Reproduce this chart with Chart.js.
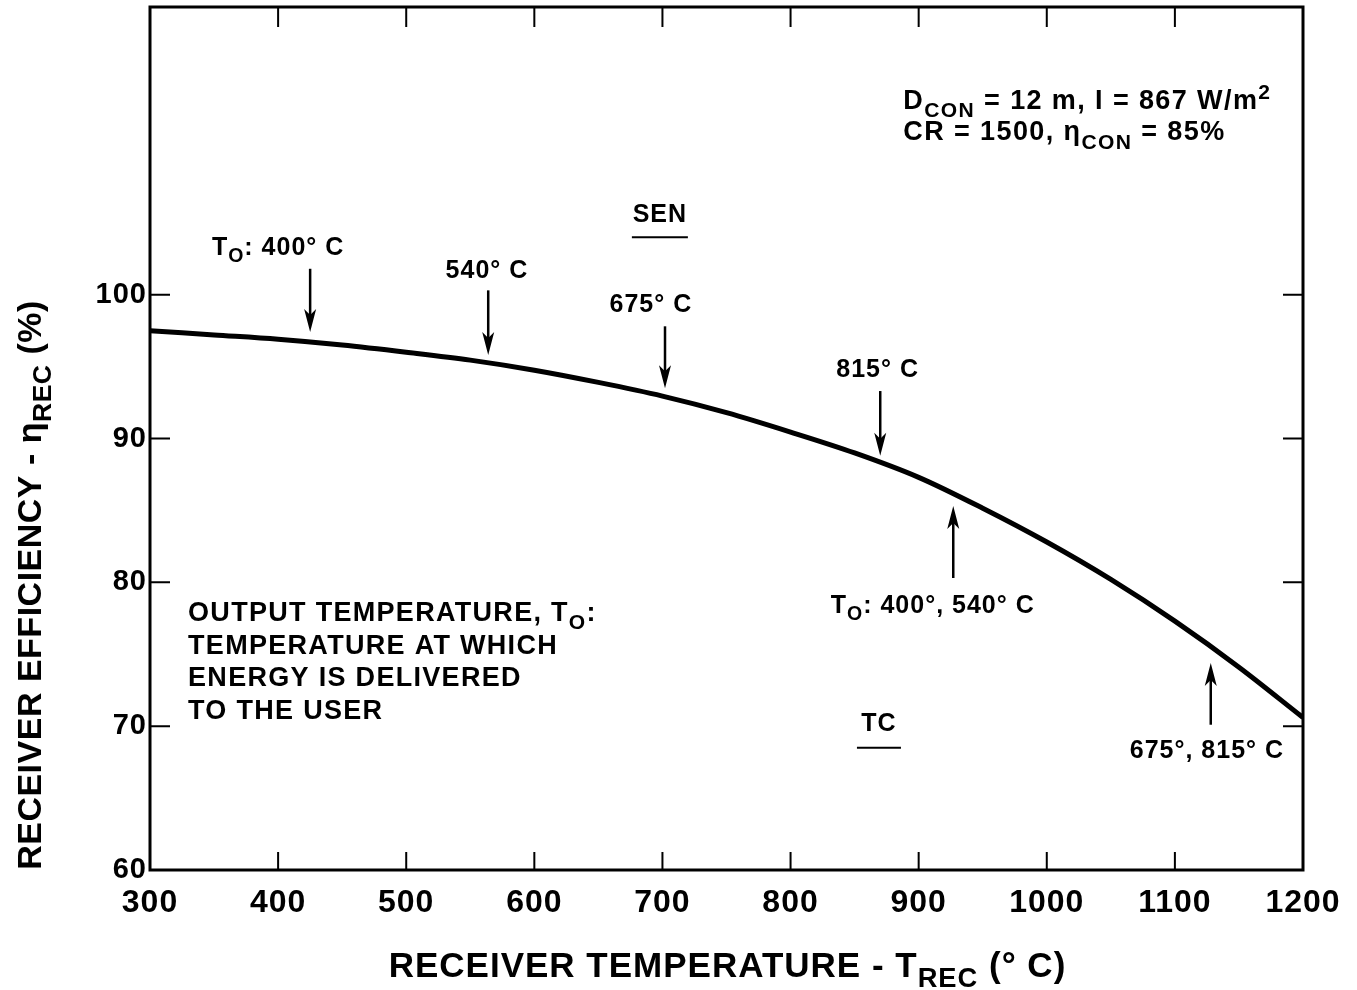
<!DOCTYPE html>
<html>
<head>
<meta charset="utf-8">
<script src="https://cdn.jsdelivr.net/npm/chart.js@4"></script>
<style>
  body { margin: 0; background: #fff; }
  canvas { display: block; }
</style>
</head>
<body>
<canvas id="effChart" width="1357" height="990"></canvas>
<script>
// receiver efficiency curve
const temps = [300, 350, 400, 450, 500, 550, 600, 650, 700, 750, 800, 850, 900, 950, 1000, 1050, 1100, 1150, 1200];
const efficiency = [97.5, 97.2, 96.9, 96.5, 96.0, 95.45, 94.75, 93.9, 92.95, 91.8, 90.45, 89.0, 87.3, 85.15, 82.8, 80.2, 77.3, 74.1, 70.6];

// arrows marking output temperatures (temperature, tail value, tip value)
const arrowT = [425, 564, 702, 870, 927, 1128];
const arrowTail = [101.8, 100.3, 97.8, 93.3, 80.3, 70.1];
const arrowTip = [97.4, 95.8, 93.5, 88.8, 85.3, 74.4];
const arrowLabels = ['T_{O}: 400° C', '540° C', '675° C', '815° C', 'T_{O}: 400°, 540° C', '675°, 815° C'];
const labelT = [400, 563, 691, 868, 911, 1125];
const labelV = [103.4, 101.8, 99.4, 94.9, 78.5, 68.4];

const FONT = '"Liberation Sans", Arial, Helvetica, sans-serif';

// draws text with _{sub} and ^{sup} pieces
function drawRich(ctx, str, x, y, size, align, spacing) {
    const parts = [];
    const re = /([_^])\{([^}]*)\}/g;
    let last = 0, m;
    while ((m = re.exec(str)) !== null) {
        if (m.index > last) parts.push({ t: str.slice(last, m.index), k: '' });
        parts.push({ t: m[2], k: m[1] });
        last = re.lastIndex;
    }
    if (last < str.length) parts.push({ t: str.slice(last), k: '' });

    ctx.letterSpacing = (spacing || 0) + 'px';
    let total = 0;
    parts.forEach(p => {
        p.size = p.k ? size * 0.78 : size;
        ctx.font = 'bold ' + p.size + 'px ' + FONT;
        p.w = ctx.measureText(p.t).width;
        total += p.w;
    });
    let cx = x;
    if (align === 'center') cx = x - total / 2;
    if (align === 'right') cx = x - total;
    const base = y + size * 0.36;
    ctx.textAlign = 'left';
    ctx.textBaseline = 'alphabetic';
    parts.forEach(p => {
        ctx.font = 'bold ' + p.size + 'px ' + FONT;
        let dy = 0;
        if (p.k === '_') dy = size * 0.3;
        if (p.k === '^') dy = -size * 0.36;
        ctx.fillText(p.t, cx, base + dy);
        cx += p.w;
    });
    ctx.letterSpacing = '0px';
}

function arrow(ctx, x, y1, y2) {
    const dir = y2 > y1 ? 1 : -1;
    ctx.beginPath();
    ctx.moveTo(x, y1);
    ctx.lineTo(x, y2 - dir * 10);
    ctx.lineWidth = 2.5;
    ctx.stroke();
    ctx.beginPath();
    ctx.moveTo(x, y2);
    ctx.lineTo(x - 6, y2 - dir * 23);
    ctx.lineTo(x, y2 - dir * 17);
    ctx.lineTo(x + 6, y2 - dir * 23);
    ctx.closePath();
    ctx.fill();
}

const decorations = {
    id: 'decorations',
    beforeDraw(chart) {
        chart.ctx.letterSpacing = '1px';
    },
    beforeDatasetsDraw(chart) {
        chart.ctx.letterSpacing = '0px';
    },
    afterDraw(chart) {
        const ctx = chart.ctx;
        const a = chart.chartArea;
        const xs = chart.scales.x, ys = chart.scales.y;
        ctx.save();
        ctx.strokeStyle = '#000';
        ctx.fillStyle = '#000';

        // frame
        ctx.lineWidth = 3;
        ctx.strokeRect(a.left, a.top, a.right - a.left, a.bottom - a.top);

        // inward tick marks
        ctx.lineWidth = 2;
        ctx.beginPath();
        for (let t = 400; t <= 1100; t += 100) {
            const px = xs.getPixelForValue(t);
            ctx.moveTo(px, a.bottom); ctx.lineTo(px, a.bottom - 18);
            ctx.moveTo(px, a.top); ctx.lineTo(px, a.top + 20);
        }
        for (let v = 70; v <= 100; v += 10) {
            const py = ys.getPixelForValue(v);
            ctx.moveTo(a.left, py); ctx.lineTo(a.left + 20, py);
            ctx.moveTo(a.right, py); ctx.lineTo(a.right - 20, py);
        }
        ctx.stroke();

        // arrows and their labels
        arrowT.forEach((t, i) => {
            arrow(ctx, xs.getPixelForValue(t), ys.getPixelForValue(arrowTail[i]), ys.getPixelForValue(arrowTip[i]));
            drawRich(ctx, arrowLabels[i], xs.getPixelForValue(labelT[i]), ys.getPixelForValue(labelV[i]), 25, 'center', 1);
        });

        // SEN / TC headings with underline
        [['SEN', 698, 105.7, 104.0, 28], ['TC', 869, 70.3, 68.5, 22]].forEach(h => {
            const px = xs.getPixelForValue(h[1]);
            drawRich(ctx, h[0], px, ys.getPixelForValue(h[2]), 25, 'center', 1);
            const uy = ys.getPixelForValue(h[3]);
            ctx.lineWidth = 2;
            ctx.beginPath();
            ctx.moveTo(px - h[4], uy);
            ctx.lineTo(px + h[4], uy);
            ctx.stroke();
        });

        // parameters, top right
        const px0 = xs.getPixelForValue(888);
        drawRich(ctx, 'D_{CON} = 12 m, I = 867 W/m^{2}', px0, ys.getPixelForValue(113.6), 27, 'left', 1.4);
        drawRich(ctx, 'CR = 1500, η_{CON} = 85%', px0, ys.getPixelForValue(111.4), 27, 'left', 1.4);

        // note, bottom left
        const note = ['OUTPUT TEMPERATURE, T_{O}:', 'TEMPERATURE AT WHICH', 'ENERGY IS DELIVERED', 'TO THE USER'];
        const nx = xs.getPixelForValue(329.7);
        const ny = ys.getPixelForValue(78.0);
        note.forEach((line, i) => drawRich(ctx, line, nx, ny + i * 32.7, 27, 'left', 1.3));

        // axis titles
        drawRich(ctx, 'RECEIVER TEMPERATURE - T_{REC} (° C)', (a.left + a.right) / 2 + 1, 964, 35, 'center', 1);
        ctx.translate(29, 585);
        ctx.rotate(-Math.PI / 2);
        drawRich(ctx, 'RECEIVER EFFICIENCY - η_{REC} (%)', 0, 0, 34, 'center', 0.5);
        ctx.restore();
    }
};

const ctx1 = document.getElementById('effChart').getContext('2d');

let effChart = new Chart(ctx1, {
    type: 'line',
    data: {
        datasets: [{
            data: temps.map((t, i) => ({ x: t, y: efficiency[i] })),
            borderColor: '#000',
            borderWidth: 5,
            pointRadius: 0,
            cubicInterpolationMode: 'monotone',
            fill: false
        }]
    },
    options: {
        responsive: false,
        animation: false,
        layout: { padding: { top: 7, right: 54 } },
        plugins: { legend: { display: false }, tooltip: { enabled: false } },
        scales: {
            x: {
                type: 'linear', min: 300, max: 1200,
                grid: { display: false, drawTicks: false },
                border: { display: false },
                ticks: {
                    stepSize: 100, color: '#000', padding: 14,
                    font: { family: FONT, size: 32, weight: 'bold' },
                    callback: v => String(v)
                },
                afterFit: s => { s.height = 120; s.paddingLeft = 0; s.paddingRight = 0; }
            },
            y: {
                min: 60, max: 120,
                grid: { display: false, drawTicks: false },
                border: { display: false },
                ticks: {
                    stepSize: 10, color: '#000', padding: 3,
                    font: { family: FONT, size: 29, weight: 'bold' },
                    callback: v => (v <= 100 ? String(v) : '')
                },
                afterFit: s => { s.width = 150; s.paddingTop = 0; s.paddingBottom = 0; }
            }
        }
    },
    plugins: [decorations]
});
</script>
</body>
</html>
